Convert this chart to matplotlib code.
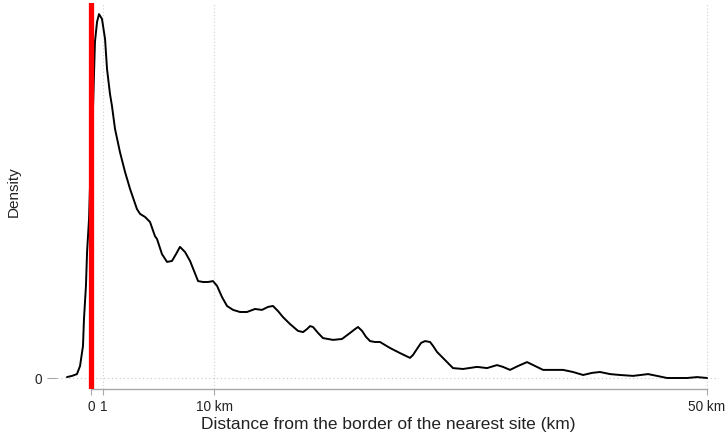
import matplotlib
matplotlib.use("Agg")
import matplotlib.pyplot as plt

# Distance from the border of the nearest site (km) and estimated density
distance_km = [-1.95, -1.54, -1.14, -0.89, -0.65, -0.57, -0.41, -0.32, -0.16, -0.08,
               0.08, 0.16, 0.32, 0.49, 0.65, 0.89, 1.14, 1.30, 1.54, 1.70,
               1.95, 2.35, 2.76, 3.17, 3.73, 3.98, 4.38, 4.79, 5.19, 5.36,
               5.76, 6.17, 6.57, 6.90, 7.22, 7.63, 8.04, 8.69, 9.09, 9.50,
               9.90, 10.23, 10.63, 11.04, 11.53, 12.09, 12.66, 13.31, 13.88, 14.37,
               14.77, 15.18, 15.58, 16.15, 16.80, 17.21, 17.53, 17.78, 18.02, 18.43,
               18.83, 19.64, 20.37, 21.02, 21.43, 21.67, 22.00, 22.32, 22.65, 23.05,
               23.46, 23.86, 24.27, 25.08, 25.89, 26.14, 26.46, 26.79, 27.11, 27.52,
               27.76, 28.08, 28.73, 29.38, 30.19, 31.33, 32.14, 32.95, 33.44, 34.01,
               34.66, 35.39, 36.04, 36.69, 38.31, 39.12, 39.94, 40.67, 41.31, 42.13,
               42.94, 44.00, 45.21, 45.94, 46.75, 48.38, 49.19, 50.00]
density = [0.0003, 0.0007, 0.0013, 0.0040, 0.0107, 0.0197, 0.0307, 0.0420, 0.0530, 0.0640,
           0.0807, 0.0897, 0.1120, 0.1187, 0.1213, 0.1197, 0.1130, 0.1030, 0.0947, 0.0907,
           0.0830, 0.0753, 0.0687, 0.0630, 0.0563, 0.0547, 0.0537, 0.0520, 0.0473, 0.0463,
           0.0413, 0.0387, 0.0390, 0.0413, 0.0437, 0.0420, 0.0390, 0.0323, 0.0320, 0.0320,
           0.0323, 0.0307, 0.0270, 0.0240, 0.0227, 0.0220, 0.0220, 0.0230, 0.0227, 0.0237,
           0.0240, 0.0223, 0.0203, 0.0180, 0.0157, 0.0153, 0.0163, 0.0173, 0.0170, 0.0150,
           0.0133, 0.0127, 0.0130, 0.0150, 0.0163, 0.0170, 0.0157, 0.0137, 0.0123, 0.0120,
           0.0120, 0.0110, 0.0100, 0.0083, 0.0067, 0.0077, 0.0097, 0.0117, 0.0123, 0.0120,
           0.0107, 0.0087, 0.0060, 0.0033, 0.0030, 0.0037, 0.0033, 0.0043, 0.0037, 0.0027,
           0.0040, 0.0053, 0.0040, 0.0027, 0.0027, 0.0020, 0.0010, 0.0017, 0.0020, 0.0013,
           0.0010, 0.0007, 0.0013, 0.0007, 0.0, 0.0, 0.0003, 0.0]

x_ticks = [0, 1, 10, 50]
x_tick_labels = ["0", "1", "10 km", "50 km"]
y_ticks = [0]
y_tick_labels = ["0"]
threshold_km = 0

plt.rcParams['font.family'] = ['Liberation Sans', 'DejaVu Sans']

fig = plt.figure(figsize=(7.27, 4.39), dpi=100)
W, H = 727, 439
left, right, top, bottom = 57, 719, 4, 390
ax = fig.add_axes([left / W, 1 - bottom / H, (right - left) / W, (bottom - top) / H])

ax.set_xlim(-2.76, 50.97)
ax.set_ylim(-0.00367, 0.125)

# gridlines
for xv in [1, 10, 50]:
    ax.axvline(xv, color="#d0d0d0", lw=0.8, ls=(0, (1, 2)), zorder=1)
ax.axhline(0, color="#c8c8c8", lw=0.8, ls=(0, (1, 2.5)), zorder=1)

ax.plot(distance_km, density, color="black", lw=1.4, zorder=3,
        solid_joinstyle="round", solid_capstyle="round", antialiased=True)
ax.axvline(threshold_km, color="#ff0000", lw=3.8, zorder=4)

for s in ["top", "right", "left"]:
    ax.spines[s].set_visible(False)
ax.spines["bottom"].set_bounds(0, 50)
ax.spines["bottom"].set_color("#a8a8a8")
ax.spines["bottom"].set_linewidth(1.0)

ax.set_xticks(x_ticks)
ax.set_xticklabels(x_tick_labels, fontsize=9.8)
ax.set_yticks(y_ticks)
ax.set_yticklabels(y_tick_labels, fontsize=9.8)
ax.tick_params(axis="x", colors="#a8a8a8", labelcolor="#222222", length=4, width=0.8, pad=3)
ax.tick_params(axis="y", colors="#a8a8a8", labelcolor="#222222", length=7, width=0.8, pad=4)

fig.text(388 / W, 1 - 425 / H, "Distance from the border of the nearest site (km)",
         ha="center", va="center", fontsize=12.5, color="#222222")
fig.text(14 / W, 1 - 192 / H, "Density", rotation=90, ha="center", va="center",
         fontsize=11, color="#222222")

fig.savefig("out.png", dpi=100)
